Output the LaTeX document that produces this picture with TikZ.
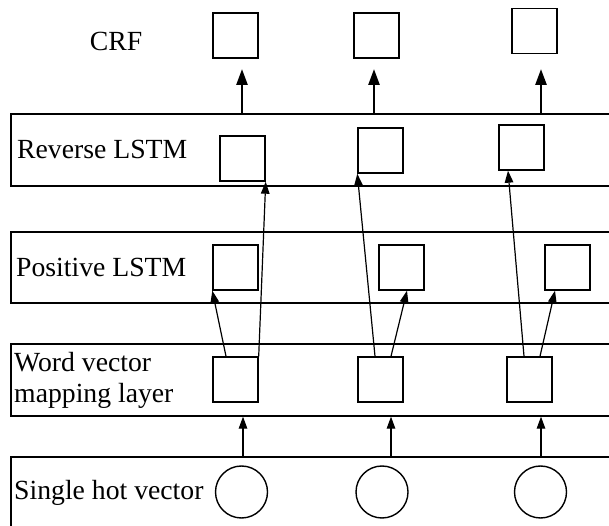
\documentclass[tikz,border=0pt]{standalone}
\usepackage{fontspec}
\setmainfont{Liberation Serif}
\newfontfamily\tnr{Liberation Serif}
\usetikzlibrary{arrows.meta,positioning}
\tikzset{
  capa/.style={draw, line width=1.3pt, minimum width=619pt, minimum height=72pt, inner sep=0pt},
  celda/.style={draw, line width=1.4pt, minimum size=45pt, inner sep=0pt},
  bola/.style={draw, circle, line width=1.4pt, minimum size=52pt, inner sep=0pt},
  et/.style={anchor=base west, inner sep=0pt, align=left, font=\tnr\fontsize{27.7}{31}\selectfont},
  fl/.style={-{Triangle[length=12pt, width=8.5pt]}, line width=1.2pt},
  flg/.style={-{Triangle[length=16pt, width=11pt]}, line width=2.6pt},
}
\begin{document}
\begin{tikzpicture}[x=1pt, y=1pt]
  \useasboundingbox (0,0) rectangle (609,526);
  \clip (0,0) rectangle (609,526);
  \node[capa] (rev) at (320.5,376) {};
  \node[capa, minimum height=71pt] (pos) at (320.5,258.5) {};
  \node[capa] (pal) at (320.5,146) {};
  \node[capa, minimum height=78pt] (uno) at (320.5,30) {};
  \node[et, anchor=base] (lcrf) at (116,475) {CRF};
  \node[et] (lrev) at (17,367) {Reverse LSTM};
  \node[et] (lpos) at (16,249) {Positive LSTM};
  \node[et] (lpal) at (14,123) {Word vector\\mapping layer};
  \node[et] (luno) at (14,26) {Single hot vector};
  \node[celda] (c1) at (235.5,490.5) {};
  \node[celda] (c2) at (376.5,490.5) {};
  \node[celda] (c3) at (534.5,495) {};
  \node[celda] (r1) at (242.5,367.5) {};
  \node[celda] (r2) at (380.5,375.5) {};
  \node[celda] (r3) at (521.5,378.5) {};
  \node[celda] (p1) at (235.5,258.5) {};
  \node[celda] (p2) at (401.5,258.5) {};
  \node[celda] (p3) at (567.5,258.5) {};
  \node[celda] (w1) at (235.5,146.5) {};
  \node[celda] (w2) at (380.5,146.5) {};
  \node[celda] (w3) at (529.5,146.5) {};
  \node[bola] (h1) at (241.5,34) {};
  \node[bola] (h2) at (382,34) {};
  \node[bola] (h3) at (540.5,34) {};
  \coordinate (t1) at (242,457); \coordinate (t2) at (374,457); \coordinate (t3) at (541,457);
  \draw[flg] (t1 |- rev.north) -- (t1); \draw[flg] (t2 |- rev.north) -- (t2); \draw[flg] (t3 |- rev.north) -- (t3);
  \coordinate (b1) at (243,0); \coordinate (b2) at (391,0); \coordinate (b3) at (541,0);
  \draw[fl] (b1 |- uno.north) -- (b1 |- pal.south); \draw[fl] (b2 |- uno.north) -- (b2 |- pal.south); \draw[fl] (b3 |- uno.north) -- (b3 |- pal.south);
  \draw[fl] ([xshift=-9.5pt]w1.north) -- (p1.south west);
  \draw[fl] (w1.north east) -- (r1.south east);
  \draw[fl] ([xshift=-5.5pt]w2.north) -- (r2.south west);
  \draw[fl] ([xshift=10.5pt]w2.north) -- ([xshift=5.5pt]p2.south);
  \draw[fl] ([xshift=-5.5pt]w3.north) -- ([xshift=-13.5pt]r3.south);
  \draw[fl] ([xshift=10.5pt]w3.north) -- ([xshift=-12.5pt]p3.south);
\end{tikzpicture}
\end{document}
